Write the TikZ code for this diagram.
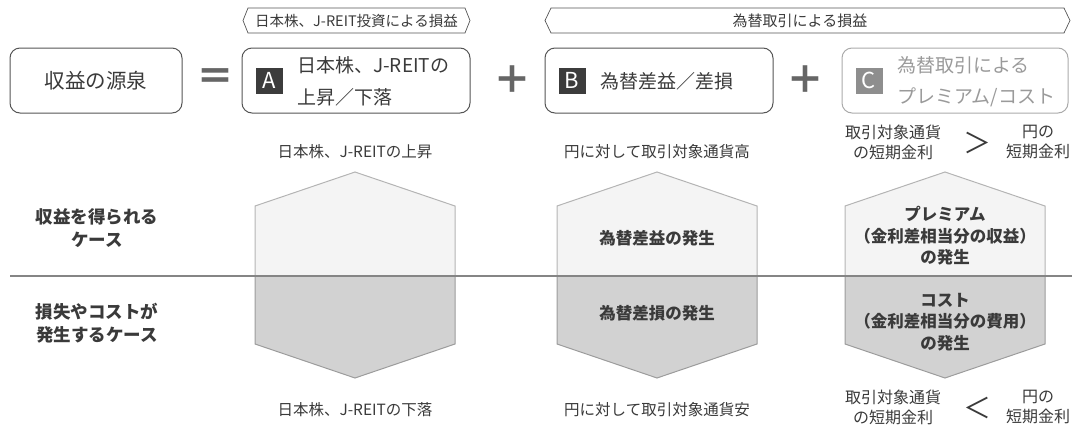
\documentclass[tikz,border=0pt]{standalone}
\usepackage{fontspec}
\setmainfont{Noto Sans CJK JP}
\definecolor{txtc}{HTML}{3A3A3A}
\definecolor{boxc}{HTML}{555555}
\definecolor{lightc}{HTML}{AAAAAA}
\definecolor{ctxt}{HTML}{9A9A9A}
\definecolor{upfill}{HTML}{F4F4F4}
\definecolor{upline}{HTML}{B4B4B4}
\definecolor{lowfill}{HTML}{D2D2D2}
\definecolor{lowline}{HTML}{9C9C9C}
\definecolor{sqc}{HTML}{3C3C3C}
\definecolor{sqlight}{HTML}{8E8E8E}
\definecolor{opc}{HTML}{666666}
\newcommand{\fs}[1]{\fontsize{#1}{#1}\selectfont}
\begin{document}
\begin{tikzpicture}[x=1pt,y=-1pt,
  txt/.style={text=txtc, inner sep=0pt, align=center},
  bigbox/.style={draw=boxc, line width=1pt, rounded corners=10pt, inner sep=0pt},
  lightbox/.style={draw=lightc, line width=1pt, rounded corners=10pt, inner sep=0pt},
  sq/.style={fill=sqc, text=white, inner sep=0pt, minimum width=27pt, minimum height=26pt, font=\fs{22}},
  banner/.style={draw=boxc, line width=0.7pt},
  upper/.style={fill=upfill, draw=upline, line width=1pt},
  lower/.style={fill=lowfill, draw=lowline, line width=1pt},
  boxtxt/.style={txt, font=\fs{19}, anchor=west},
  lbl/.style={txt, font=\fs{15.5}},
  clbl/.style={txt, font=\fs{16}},
  blbl/.style={txt, font=\fs{16.5}\bfseries},
  side/.style={txt, font=\fs{17.5}\bfseries},
  op/.style={text=opc, inner sep=0pt, font=\fs{38}\bfseries},
  cmp/.style={text=txtc, inner sep=0pt, font=\fs{28}}]
\useasboundingbox (0,0) rectangle (1072,429);

% banners
\draw[banner] (243,20.5) -- (248,8) -- (465,8) -- (470,20.5) -- (465,33) -- (248,33) -- cycle;
\node[txt, font=\fs{14.5}] (banA) at (356.5,21) {日本株、J-REIT投資による損益};
\draw[banner] (545,20.5) -- (551,8) -- (1064,8) -- (1070,20.5) -- (1064,33) -- (551,33) -- cycle;
\node[txt, font=\fs{15}] (banB) at (800,21) {為替取引による損益};

% top row
\node[bigbox, minimum width=172pt, minimum height=65pt, txt, font=\fs{20.5}] (src) at (96,80.5) {収益の源泉};
\node[op] (eq) at (215,80) {＝};
\node[bigbox, minimum width=228pt, minimum height=65pt] (boxA) at (356,80.5) {};
\node[sq] (sqA) at (269.5,80.5) {A};
\node[boxtxt] (tA1) at (297,65) {日本株、J-REITの};
\node[boxtxt] (tA2) at (297,97) {上昇／下落};
\node[op] (plus1) at (512,80) {＋};
\node[bigbox, minimum width=228pt, minimum height=65pt] (boxB) at (659,80.5) {};
\node[sq] (sqB) at (572,80.5) {B};
\node[boxtxt] (tB) at (600,81) {為替差益／差損};
\node[op] (plus2) at (805,80) {＋};
\node[lightbox, minimum width=226pt, minimum height=65pt] (boxC) at (955,80.5) {};
\node[sq, fill=sqlight] (sqC) at (869,80.5) {C};
\node[boxtxt, text=ctxt] (tC1) at (897,65) {為替取引による};
\node[boxtxt, text=ctxt] (tC2) at (897,97) {プレミアム/コスト};

% pentagons
\foreach \cx in {355,657,945}{
  \draw[upper] (\cx,172) -- (\cx+100,206) -- (\cx+100,276) -- (\cx-100,276) -- (\cx-100,206) -- cycle;
  \draw[lower] (\cx-100,276) -- (\cx+100,276) -- (\cx+100,344) -- (\cx,378) -- (\cx-100,344) -- cycle;
}
\draw[draw=opc!80, line width=1.5pt] (10,276) -- (1072,276);

% side labels
\node[side] (s1) at (97,228) {収益を得られる\\[6pt]ケース};
\node[side] (s2) at (97,323) {損失やコストが\\[6pt]発生するケース};

% column A
\node[lbl] (a1) at (355,152) {日本株、J-REITの上昇};
\node[lbl] (a2) at (355,410) {日本株、J-REITの下落};
% column B
\node[lbl] (b1) at (657,152) {円に対して取引対象通貨高};
\node[blbl] (b2) at (657,238) {為替差益の発生};
\node[blbl] (b3) at (657,313) {為替差損の発生};
\node[lbl] (b4) at (657,410) {円に対して取引対象通貨安};
% column C
\node[clbl] (c1) at (893,142) {取引対象通貨\\[4pt]の短期金利};
\node[cmp] (gt) at (977,143) {＞};
\node[clbl] (c2) at (1038,142) {円の\\[4pt]短期金利};
\node[blbl] (c3) at (945,236) {プレミアム\\[5pt]（金利差相当分の収益）\\[5pt]の発生};
\node[blbl] (c4) at (945,322) {コスト\\[5pt]（金利差相当分の費用）\\[5pt]の発生};
\node[clbl] (c5) at (893,407) {取引対象通貨\\[4pt]の短期金利};
\node[cmp] (lt) at (977,408) {＜};
\node[clbl] (c6) at (1038,407) {円の\\[4pt]短期金利};
\end{tikzpicture}
\end{document}
